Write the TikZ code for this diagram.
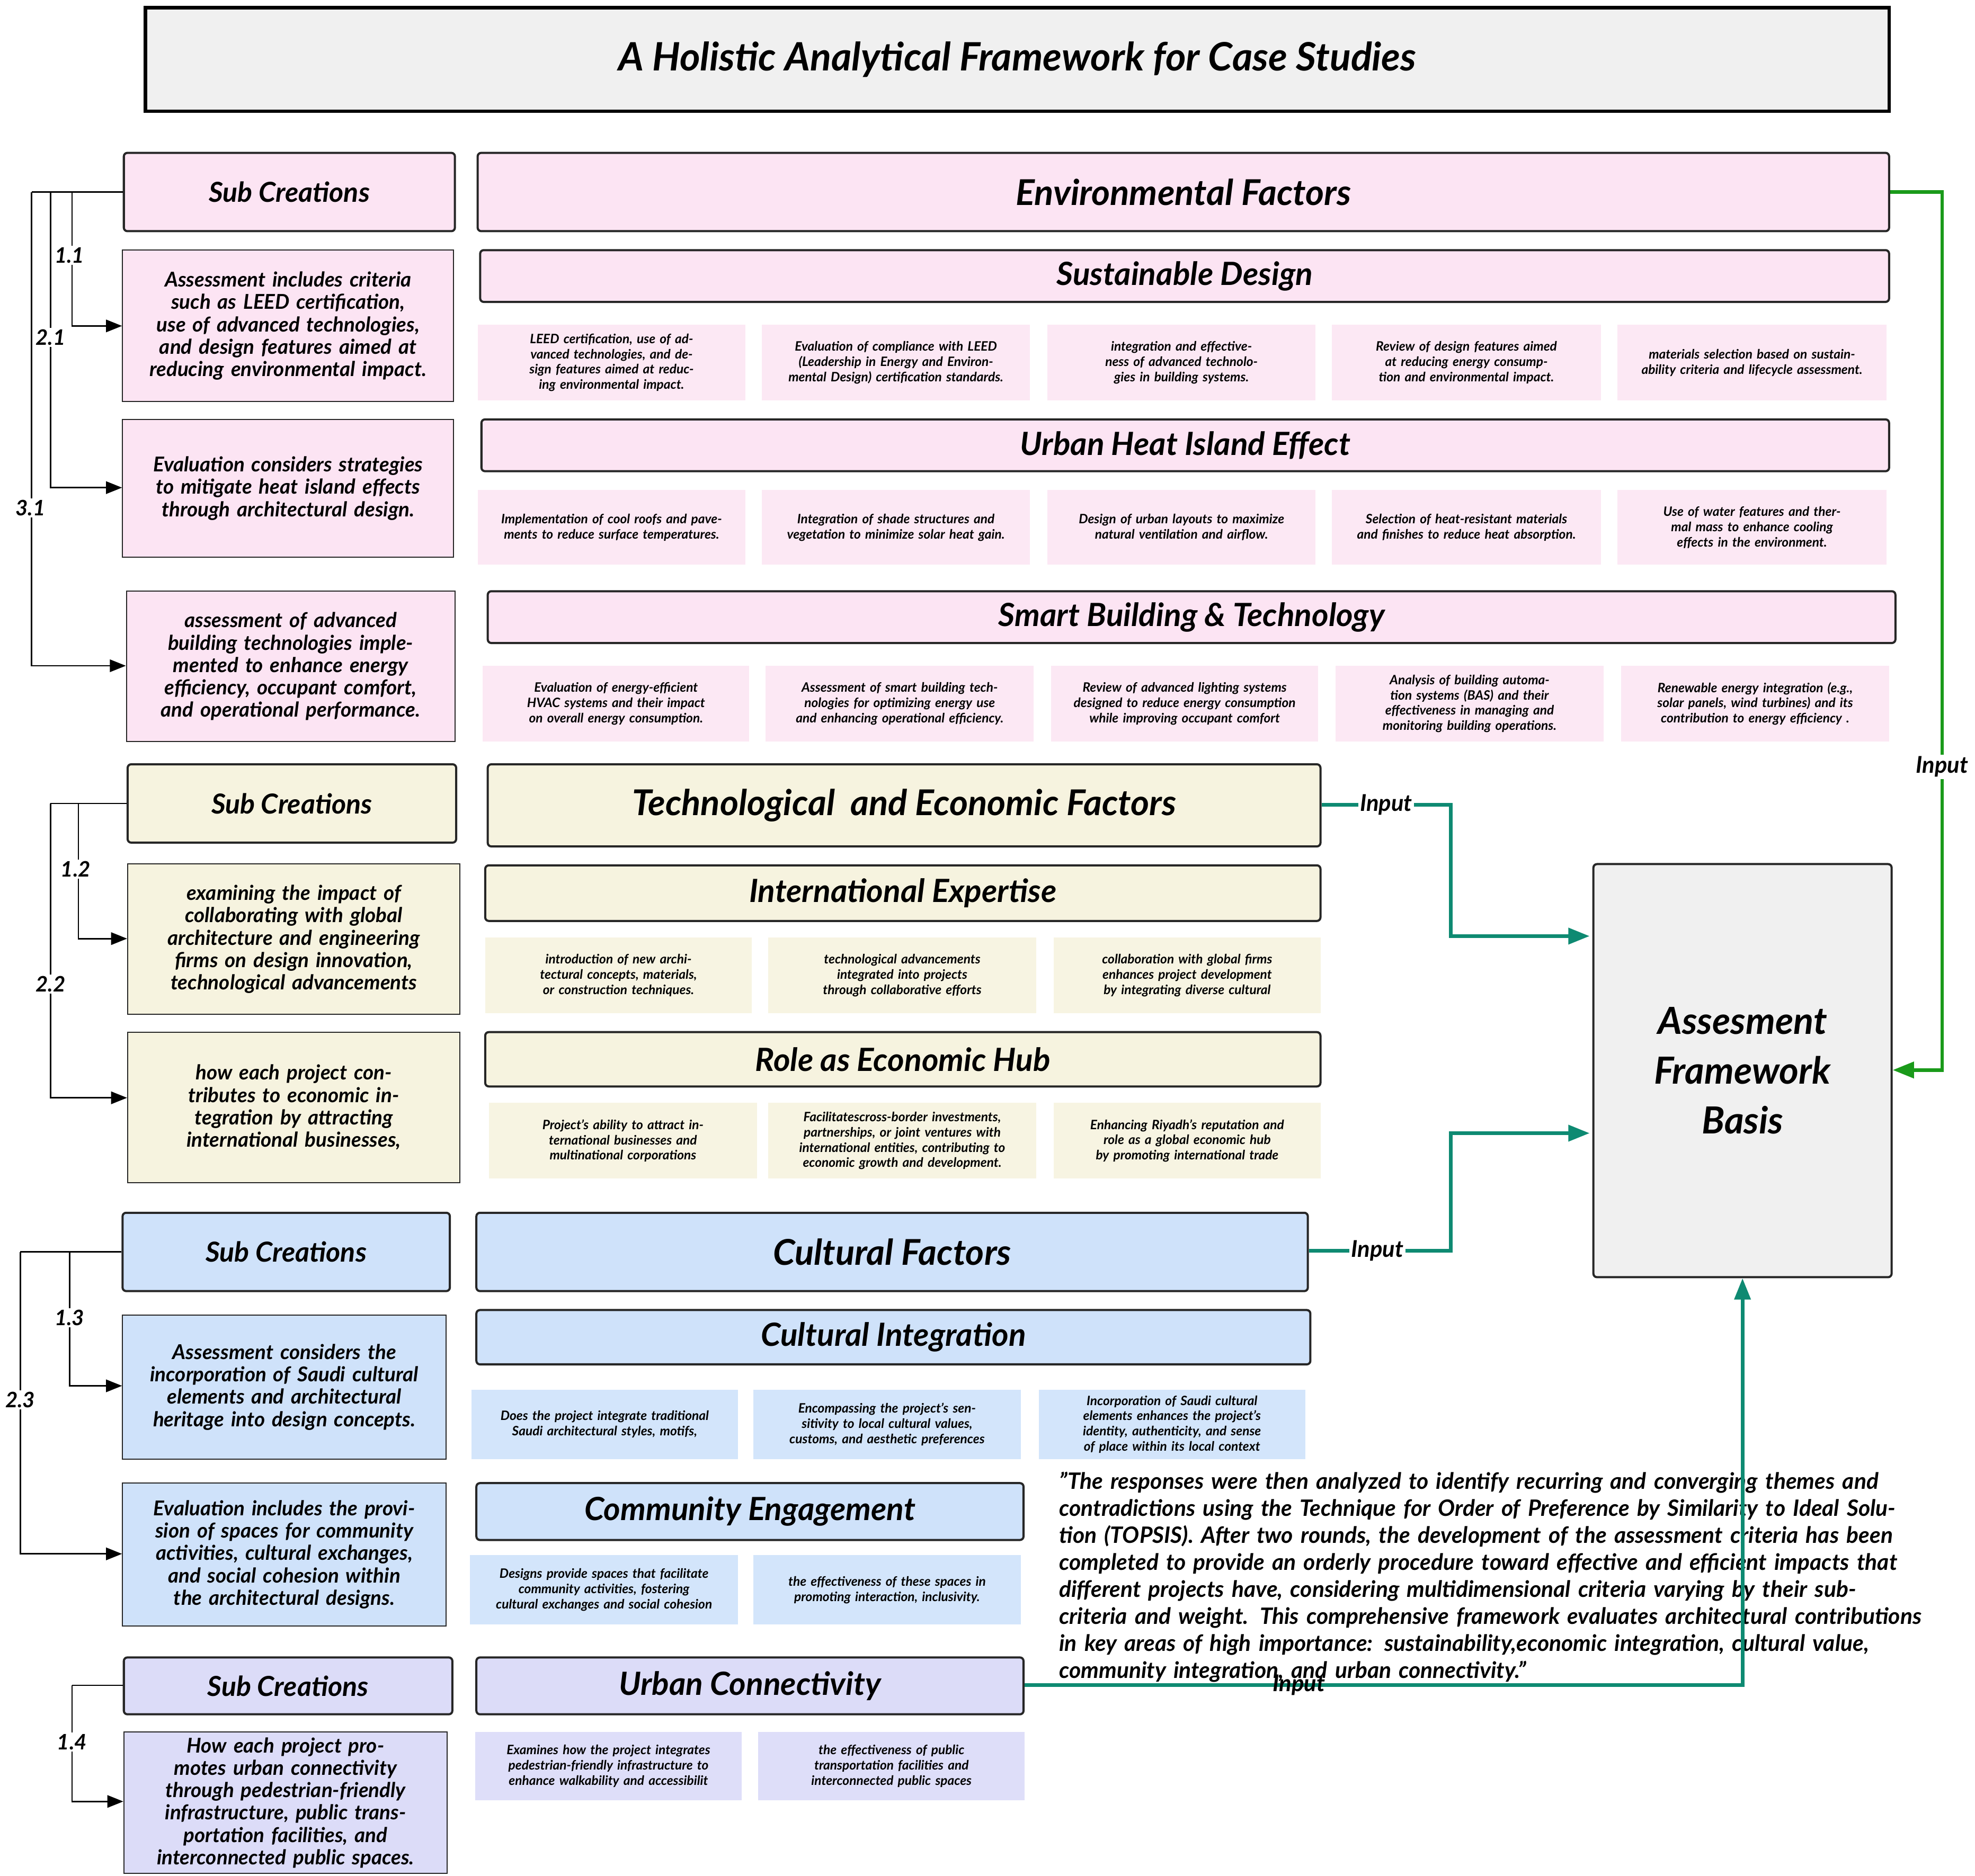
\documentclass[tikz,border=0pt]{standalone}
\usepackage{fontspec}
\setmainfont{Lato}
\usetikzlibrary{fit,arrows.meta}
\definecolor{pk}{HTML}{FCE4F3}\definecolor{pkl}{HTML}{FCE8F4}
\definecolor{ye}{HTML}{F6F3DF}\definecolor{yel}{HTML}{F7F4E2}
\definecolor{bl}{HTML}{CFE2FA}\definecolor{bll}{HTML}{D3E5FB}
\definecolor{lv}{HTML}{DCDCF8}\definecolor{lvl}{HTML}{DEDEF9}
\definecolor{tl}{HTML}{0E8A72}\definecolor{gr}{HTML}{1A9A1A}
\newcommand\bx[7]{\node[#1, fit={(#2,#3)(#4,#5)}, inner sep=0pt] (#6) {}; \node[#1, draw=none, fill=none, inner sep=1pt] at (#6.center) {#7};}
\begin{document}
\begin{tikzpicture}[x=0.025cm,y=-0.025cm,font=\bfseries\itshape,
 hd/.style={draw=black!85,line width=1.2pt,rounded corners=2pt,fill=#1,font=\fontsize{20}{24}\selectfont\bfseries\itshape},
 sh/.style={draw=black!85,line width=1.2pt,rounded corners=2pt,fill=#1,font=\fontsize{18}{22}\selectfont\bfseries\itshape},
 sc/.style={draw=black!85,line width=1.2pt,rounded corners=2pt,fill=#1,font=\fontsize{15.5}{18}\selectfont\bfseries\itshape},
 lf/.style={draw=black!85,line width=0.6pt,fill=#1,align=center,text width=5.6cm,font=\fontsize{11.5}{12.6}\selectfont\bfseries\itshape},
 sm/.style={fill=#1,align=center,text width=4.4cm,font=\fontsize{7.3}{8.6}\selectfont\bfseries\itshape},
 ar/.style={-{Triangle[length=9pt,width=7pt]},line width=0.8pt},
 lab/.style={font=\fontsize{12}{14}\selectfont\bfseries\itshape,fill=white,inner sep=1pt},
 ta/.style={-{Triangle[length=12pt,width=9pt]},line width=2pt,color=tl},
 inp/.style={font=\fontsize{13}{15}\selectfont\bfseries\itshape,fill=white,inner sep=1pt}]
\useasboundingbox (0,0) rectangle (1563,1485);
\bx{draw=black,line width=2pt,fill=black!6,font=\fontsize{22}{26}\selectfont\bfseries\itshape}{115}{6}{1495}{88}{title}{A Holistic Analytical Framework for Case Studies}
% Environmental
\bx{sc=pk}{98}{121}{360}{183}{s1}{Sub Creations}
\bx{hd=pk}{378}{121}{1495}{183}{env}{Environmental Factors}
\bx{lf=pk}{97}{198}{359}{318}{l11}{Assessment includes criteria such as LEED certification, use of advanced technologies, and design features aimed at reducing environmental impact.}
\bx{sh=pk}{380}{198}{1495}{239}{sd}{Sustainable Design}
\bx{sm=pkl}{378}{257}{590}{317}{a1}{LEED certification, use of advanced technologies, and design features aimed at reducing environmental impact.}
\bx{sm=pkl}{603}{257}{815}{317}{a2}{Evaluation of compliance with LEED (Leadership in Energy and Environmental Design) certification standards.}
\bx{sm=pkl}{829}{257}{1041}{317}{a3}{integration and effectiveness of advanced technologies in building systems.}
\bx{sm=pkl}{1054}{257}{1267}{317}{a4}{Review of design features aimed at reducing energy consumption and environmental impact.}
\bx{sm=pkl}{1280}{257}{1493}{317}{a5}{materials selection based on sustainability criteria and lifecycle assessment.}
\bx{lf=pk}{97}{332}{359}{441}{l21}{Evaluation considers strategies to mitigate heat island effects through architectural design.}
\bx{sh=pk}{381}{332}{1495}{373}{uhi}{Urban Heat Island Effect}
\bx{sm=pkl}{378}{388}{590}{447}{b1}{Implementation of cool roofs and pavements to reduce surface temperatures.}
\bx{sm=pkl}{603}{388}{815}{447}{b2}{Integration of shade structures and vegetation to minimize solar heat gain.}
\bx{sm=pkl}{829}{388}{1041}{447}{b3}{Design of urban layouts to maximize natural ventilation and airflow.}
\bx{sm=pkl}{1054}{388}{1267}{447}{b4}{Selection of heat-resistant materials and finishes to reduce heat absorption.}
\bx{sm=pkl}{1280}{388}{1493}{447}{b5}{Use of water features and thermal mass to enhance cooling effects in the environment.}
\bx{lf=pk}{100}{468}{360}{587}{l31}{assessment of advanced building technologies implemented to enhance energy efficiency, occupant comfort, and operational performance.}
\bx{sh=pk}{386}{468}{1500}{509}{sbt}{Smart Building \& Technology}
\bx{sm=pkl}{382}{527}{593}{587}{c1}{Evaluation of energy-efficient HVAC systems and their impact on overall energy consumption.}
\bx{sm=pkl}{606}{527}{818}{587}{c2}{Assessment of smart building technologies for optimizing energy use and enhancing operational efficiency.}
\bx{sm=pkl}{832}{527}{1043}{587}{c3}{Review of advanced lighting systems designed to reduce energy consumption while improving occupant comfort}
\bx{sm=pkl}{1057}{527}{1269}{587}{c4}{Analysis of building automation systems (BAS) and their effectiveness in managing and monitoring building operations.}
\bx{sm=pkl}{1283}{527}{1495}{587}{c5}{Renewable energy integration (e.g., solar panels, wind turbines) and its contribution to energy efficiency .}
\coordinate (e1) at (57,152);\coordinate (e2) at (40,152);\coordinate (e3) at (25,152);
\draw[line width=0.8pt] (s1.west) -- (e3);
\draw[ar] (e1) |- (l11.west|-0,258);
\draw[ar] (e2) |- (l21.west|-0,386);
\draw[ar] (e3) |- (l31.west|-0,527);
\node[lab] at (55,202) {1.1};\node[lab] at (40,267) {2.1};\node[lab] at (24,402) {3.1};
% Tech
\bx{sc=ye}{101}{605}{361}{667}{s2}{Sub Creations}
\bx{hd=ye}{386}{605}{1045}{670}{tech}{Technological\ \ and Economic Factors}
\bx{lf=ye}{101}{684}{364}{803}{l12}{examining the impact of collaborating with global architecture and engineering firms on design innovation, technological advancements}
\bx{sh=ye}{384}{685}{1045}{729}{ie}{International Expertise}
\bx{sm=yel}{384}{742}{595}{802}{d1}{introduction of new architectural concepts, materials, or construction techniques.}
\bx{sm=yel}{608}{742}{820}{802}{d2}{technological advancements integrated into projects through collaborative efforts}
\bx{sm=yel}{834}{742}{1045}{802}{d3}{collaboration with global firms enhances project development by integrating diverse cultural}
\bx{lf=ye}{101}{817}{364}{936}{l22}{how each project contributes to economic integration by attracting international businesses,}
\bx{sh=ye}{384}{817}{1045}{860}{reh}{Role as Economic Hub}
\bx{sm=yel}{387}{873}{599}{933}{f1}{Project's ability to attract international businesses and multinational corporations}
\bx{sm=yel}{608}{873}{820}{933}{f2}{Facilitatescross-border investments, partnerships, or joint ventures with international entities, contributing to economic growth and development.}
\bx{sm=yel}{834}{873}{1045}{933}{f3}{Enhancing Riyadh's reputation and role as a global economic hub by promoting international trade}
\coordinate (t1) at (62,636);\coordinate (t2) at (40,636);
\draw[line width=0.8pt] (s2.west|-0,636) -- (t2);
\draw[ar] (t1) |- (l12.west|-0,743);
\draw[ar] (t2) |- (l22.west|-0,869);
\node[lab] at (60,688) {1.2};\node[lab] at (40,779) {2.2};
% Cultural
\bx{sc=bl}{97}{960}{356}{1022}{s3}{Sub Creations}
\bx{hd=bl}{377}{960}{1035}{1022}{cul}{Cultural Factors}
\bx{lf=bl}{97}{1041}{353}{1155}{l13}{Assessment considers the incorporation of Saudi cultural elements and architectural heritage into design concepts.}
\bx{sh=bl}{377}{1037}{1037}{1080}{ci}{Cultural Integration}
\bx{sm=bll}{373}{1100}{584}{1155}{g1}{Does the project integrate traditional Saudi architectural styles, motifs,}
\bx{sm=bll}{596}{1100}{808}{1155}{g2}{Encompassing the project's sensitivity to local cultural values, customs, and aesthetic preferences}
\bx{sm=bll}{822}{1100}{1033}{1155}{g3}{Incorporation of Saudi cultural elements enhances the project's identity, authenticity, and sense of place within its local context}
\bx{lf=bl}{97}{1174}{353}{1287}{l23}{Evaluation includes the provision of spaces for community activities, cultural exchanges, and social cohesion within the architectural designs.}
\bx{sh=bl}{377}{1174}{810}{1219}{ce}{Community Engagement}
\bx{sm=bll}{372}{1231}{584}{1286}{h1}{Designs provide spaces that facilitate community activities, fostering cultural exchanges and social cohesion}
\bx{sm=bll}{596}{1231}{808}{1286}{h2}{the effectiveness of these spaces in promoting interaction, inclusivity.}
\coordinate (u1) at (55,991);\coordinate (u2) at (16,991);
\draw[line width=0.8pt] (s3.west) -- (u2);
\draw[ar] (u1) |- (l13.west|-0,1097);
\draw[ar] (u2) |- (l23.west|-0,1230);
\node[lab] at (55,1043) {1.3};\node[lab] at (16,1108) {2.3};
% Urban
\bx{sc=lv}{98}{1312}{358}{1357}{s4}{Sub Creations}
\bx{sh=lv}{377}{1312}{810}{1357}{uc}{Urban Connectivity}
\bx{lf=lv}{98}{1371}{354}{1483}{l14}{How each project promotes urban connectivity through pedestrian-friendly infrastructure, public transportation facilities, and interconnected public spaces.}
\bx{sm=lvl}{376}{1371}{587}{1425}{k1}{Examines how the project integrates pedestrian-friendly infrastructure to enhance walkability and accessibilit}
\bx{sm=lvl}{600}{1371}{811}{1425}{k2}{the effectiveness of public transportation facilities and interconnected public spaces}
\coordinate (v1) at (57,1334);
\draw[line width=0.8pt] (s4.west|-0,1334) -- (v1);
\draw[ar] (v1) |- (l14.west|-0,1426);
\node[lab] at (57,1379) {1.4};
% Assessment
\bx{draw=black!85,line width=1.2pt,rounded corners=2pt,fill=black!6,align=center,font=\fontsize{21}{28}\selectfont\bfseries\itshape}{1261}{684}{1497}{1011}{afb}{Assesment\\Framework\\Basis}
\node[align=left,anchor=north west,text width=17.1cm,font=\fontsize{12.7}{15.2}\selectfont\bfseries\itshape,inner sep=0pt] (q) at (838,1165) {\hyphenpenalty=10000\exhyphenpenalty=10000 "The responses were then analyzed to identify recurring and converging themes and contradictions using the Technique for Order of Preference by Similarity to Ideal Solution (TOPSIS). After two rounds, the development of the assessment criteria has been completed to provide an orderly procedure toward effective and efficient impacts that different projects have, considering multidimensional criteria varying by their sub-criteria and weight. This comprehensive framework evaluates architectural contributions in key areas of high importance: sustainability,economic integration, cultural value, community integration, and urban connectivity."};
\coordinate (g1c) at (1537,152);
\draw[ta,color=gr] (env.east|-0,152) -- (g1c) |- (afb.east|-0,847);
\node[inp] at (1537,607) {Input};
\draw[ta] (tech.east|-0,637) -| (1148,741) -- (1258,741);
\node[inp] at (1097,637) {Input};
\draw[ta] (cul.east|-0,990) -| (1148,897) -- (1258,897);
\node[inp] at (1090,990) {Input};
\draw[ta] (uc.east|-0,1334) -| (afb.south);
\node[font=\fontsize{13}{15}\selectfont\bfseries\itshape,inner sep=1pt] at (1028,1334) {Input};
\end{tikzpicture}
\end{document}
